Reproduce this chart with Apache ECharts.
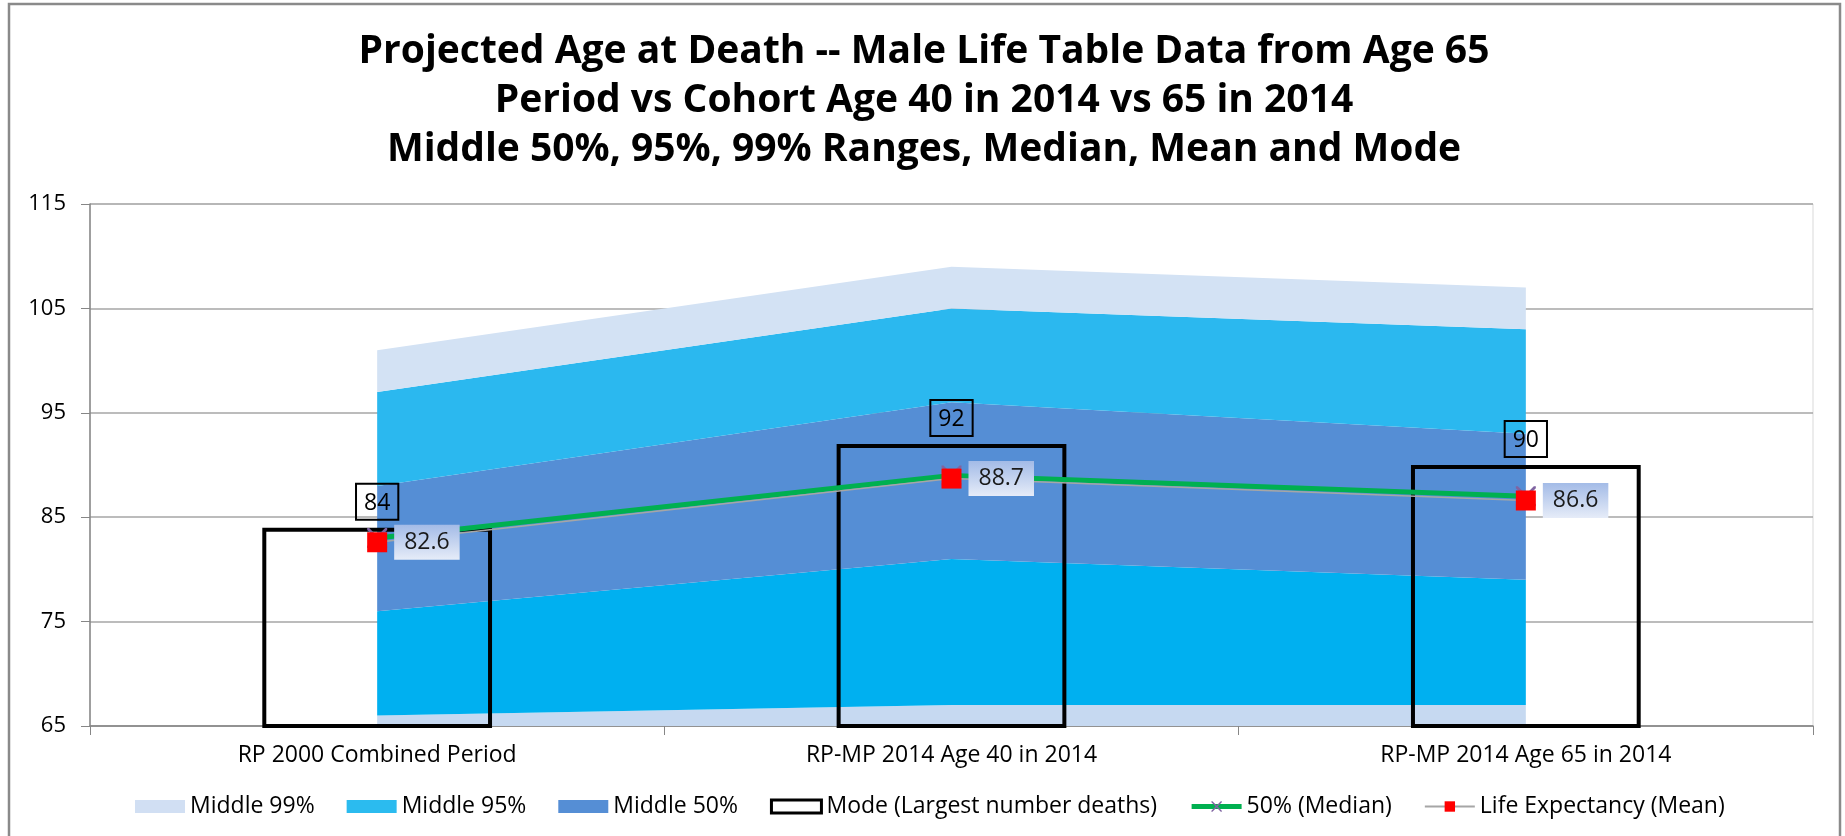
<!DOCTYPE html>
<html>
<head>
<meta charset="utf-8">
<title>Projected Age at Death</title>
<script src="https://cdn.jsdelivr.net/npm/echarts@6/dist/echarts.min.js"></script>
<style>
  html, body { margin: 0; padding: 0; background: #fff; }
  #chart { width: 1845px; height: 836px; }
</style>
</head>
<body>
<div id="chart"></div>
<script>
// categories and values
const categories = ['RP 2000 Combined Period', 'RP-MP 2014 Age 40 in 2014', 'RP-MP 2014 Age 65 in 2014']
const low99 = [65, 65, 65]
const low95 = [66, 67, 67]
const low50 = [76, 81, 79]
const high50 = [88, 96, 93]
const high95 = [97, 105, 103]
const high99 = [101, 109, 107]
const modeAge = [84, 92, 90]
const medianAge = [83, 89, 87]
const meanAge = [82.6, 88.7, 86.6]
const yTicks = { min: 65, max: 115, interval: 10 }

// band thickness for the stacked areas
const diff = (a, b) => a.map((v, i) => v - b[i])

const FONT = '"Open Sans", sans-serif'
const chart = echarts.init(document.getElementById('chart'))

function band(name, data, color) {
  return {
    name: name,
    type: 'line',
    stack: 'band',
    data: data,
    symbol: 'none',
    lineStyle: { width: 0 },
    areaStyle: { color: color, opacity: 1 },
    itemStyle: { color: color },
    z: 1,
    silent: true
  }
}

const xMark = 'path://M0,0 L2,0 L10,8 L18,0 L20,0 L20,2 L12,10 L20,18 L20,20 L18,20 L10,12 L2,20 L0,20 L0,18 L8,10 L0,2 Z'

chart.setOption({
  animation: false,
  textStyle: { fontFamily: FONT },
  graphic: [
    {
      type: 'rect',
      shape: { x: 9, y: 4, width: 1831, height: 840 },
      style: { fill: 'none', stroke: '#8a8a8a', lineWidth: 2.5 },
      silent: true
    },
    {
      type: 'text',
      x: 924,
      y: 27,
      silent: true,
      style: {
        text: 'Projected Age at Death -- Male Life Table Data from Age 65\nPeriod vs Cohort Age 40 in 2014 vs 65 in 2014\nMiddle 50%, 95%, 99% Ranges, Median, Mean and Mode',
        align: 'center',
        verticalAlign: 'top',
        font: 'bold 39px "Open Sans", sans-serif',
        lineHeight: 49,
        fill: '#000'
      }
    }
  ],
  legend: {
    left: 130,
    top: 790,
    itemWidth: 50,
    itemHeight: 13,
    itemGap: 32,
    textStyle: { fontSize: 23, color: '#000', fontFamily: FONT },
    data: [
      { name: 'Middle 99%', icon: 'rect', itemStyle: { color: '#d1dff3' } },
      { name: 'Middle 95%', icon: 'rect', itemStyle: { color: '#2bbbef' } },
      { name: 'Middle 50%', icon: 'rect', itemStyle: { color: '#558ed5' } },
      { name: 'Mode (Largest number deaths)', icon: 'rect', itemStyle: { color: '#fff', borderColor: '#000', borderWidth: 3 } },
      { name: '50% (Median)', lineStyle: { width: 5, color: '#00b050' } },
      { name: 'Life Expectancy (Mean)', lineStyle: { width: 2, color: '#a6a6a6' } }
    ]
  },
  grid: {
    left: 90,
    right: 32,
    top: 204,
    bottom: 110,
    show: true,
    borderColor: '#d9d9d9',
    borderWidth: 1
  },
  xAxis: {
    type: 'category',
    data: categories,
    boundaryGap: true,
    axisLine: { lineStyle: { color: '#868686', width: 1.5 } },
    axisTick: { show: true, length: 9, lineStyle: { color: '#868686' } },
    axisLabel: { fontSize: 23, color: '#000', margin: 18, fontFamily: FONT }
  },
  yAxis: {
    type: 'value',
    min: yTicks.min,
    max: yTicks.max,
    interval: yTicks.interval,
    axisLine: { show: true, lineStyle: { color: '#868686', width: 1.5 } },
    axisTick: { show: true, length: 9, lineStyle: { color: '#868686' } },
    splitLine: { lineStyle: { color: '#a6a6a6', width: 1.5 } },
    axisLabel: { fontSize: 22, color: '#000', margin: 24, fontFamily: FONT }
  },
  series: [
    {
      name: 'base',
      type: 'line',
      stack: 'band',
      data: low99,
      symbol: 'none',
      lineStyle: { width: 0 },
      silent: true
    },
    band('Middle 99%', diff(low95, low99), '#c6d9f1'),
    band('Middle 95%', diff(low50, low95), '#00b0f0'),
    band('Middle 50%', diff(high50, low50), '#558ed5'),
    band('Middle 95%', diff(high95, high50), '#2bb8ef'),
    band('Middle 99%', diff(high99, high95), '#d3e2f4'),
    {
      name: 'Mode (Largest number deaths)',
      type: 'bar',
      data: modeAge,
      barWidth: '40%',
      z: 3,
      itemStyle: { color: 'rgba(0,0,0,0)', borderColor: '#000', borderWidth: 4 },
      label: {
        show: true,
        position: 'top',
        distance: 8,
        fontSize: 23,
        color: '#000',
        borderColor: '#000',
        borderWidth: 2,
        padding: [8, 8, 5, 8]
      }
    },
    {
      name: '50% (Median)',
      type: 'line',
      data: medianAge,
      z: 4,
      symbol: xMark,
      symbolSize: 20,
      itemStyle: { color: '#8064a2' },
      lineStyle: { color: '#00b050', width: 5 }
    },
    {
      name: 'Life Expectancy (Mean)',
      type: 'line',
      data: meanAge,
      z: 5,
      symbol: 'rect',
      symbolSize: 20,
      itemStyle: { color: '#ff0000' },
      lineStyle: { color: '#a6a6a6', width: 1.5 },
      label: {
        show: true,
        position: 'right',
        distance: 7,
        fontSize: 23,
        color: '#1a1a1a',
        padding: [7, 10, 5, 10],
        backgroundColor: new echarts.graphic.LinearGradient(0, 0, 0, 1, [
          { offset: 0, color: '#a3bbe7' },
          { offset: 1, color: '#e6ecf8' }
        ])
      }
    }
  ]
})
</script>
</body>
</html>
